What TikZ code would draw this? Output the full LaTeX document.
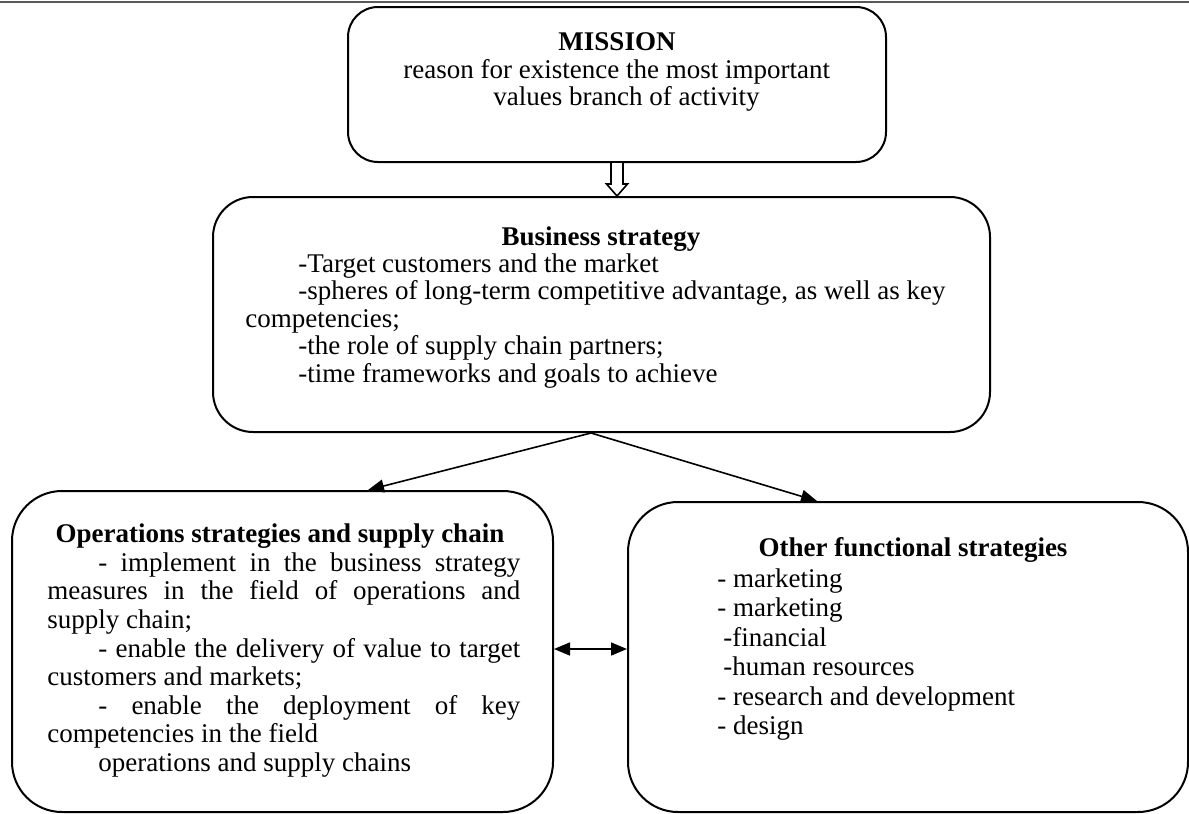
\documentclass[tikz,border=0pt]{standalone}
\usepackage{fontspec}
\setmainfont{Liberation Serif}
\usetikzlibrary{arrows.meta,fit,calc}
\begin{document}
\begin{tikzpicture}[x=0.5pt,y=-0.5pt,
  box/.style={draw, line width=1pt, rounded corners=#1, inner sep=0pt},
  box/.default=15pt,
  arr/.style={line width=0.8pt, -{Triangle[length=8pt,width=6.5pt]}},
  arrboth/.style={line width=0.8pt, {Triangle[length=8pt,width=6.5pt]}-{Triangle[length=8pt,width=6.5pt]}},
  txt/.style={anchor=base west, inner sep=0pt, font=\fontsize{13.5}{16}\selectfont},
  ttl/.style={anchor=base, inner sep=0pt, font=\fontsize{13.5}{16}\selectfont\bfseries},
  rule/.style={line width=1pt, black!65}]
\useasboundingbox (0,0) rectangle (1189,814);

% page rule along the top
\coordinate (ruleL) at (0,2);
\coordinate (ruleR) at (1189,2);
\draw[rule] (ruleL) -- (ruleR);

% the four boxes
\node[box=15pt, fit={(348,7) (886,162)}] (mission) {};
\node[box=20pt, fit={(213,197) (990,432)}] (business) {};
\node[box=25pt, fit={(12,491) (553,812)}] (ops) {};
\node[box=25pt, fit={(628,502) (1188,812)}] (other) {};

% hollow arrow from the mission to the business strategy
\coordinate (hx) at (617,0);
\coordinate (ms) at (mission.south -| hx);
\coordinate (bn) at (business.north -| hx);
\draw[line width=0.8pt, fill=white]
  ($(ms)+(-6,0)$) -- ($(bn)+(-6,-12)$) -- ($(bn)+(-10.5,-12)$) -- (bn)
  -- ($(bn)+(10.5,-12)$) -- ($(bn)+(6,-12)$) -- ($(ms)+(6,0)$);

% connectors
\coordinate (ax) at (591,0);
\coordinate (lx) at (368,0);
\coordinate (rx) at (817,0);
\coordinate (dy) at (0,649);
\draw[arr] (business.south -| ax) -- (ops.north -| lx);
\draw[arr] (business.south -| ax) -- (other.north -| rx);
\draw[arrboth] (ops.east |- dy) -- (other.west |- dy);

% mission text
\node[ttl] (missionT) at (617,50) {MISSION};
\node[txt] (missionA) at (403,78) {reason for existence the most important};
\node[txt] (missionB) at (493,105) {values branch of activity};

% business strategy text
\node[ttl] (busT) at (601,245) {Business strategy};
\node[txt] (bus1) at (298,272) {-Target customers and the market};
\node[txt] (bus2) at (298,299.5) {-spheres of long-term competitive advantage, as well as key};
\node[txt] (bus3) at (245,327) {competencies;};
\node[txt] (bus4) at (298,354.5) {-the role of supply chain partners;};
\node[txt] (bus5) at (298,382) {-time frameworks and goals to achieve};

% operations strategies text (justified lines)
\node[ttl] (opsT) at (280,542) {Operations strategies and supply chain};
\node[txt] (ops1) at (98,571) {\makebox[211pt][s]{- implement in the business strategy}};
\node[txt] (ops2) at (47,599.5) {\makebox[236.5pt][s]{measures in the field of operations and}};
\node[txt] (ops3) at (47,628) {supply chain;};
\node[txt] (ops4) at (98,657) {\makebox[211pt][s]{- enable the delivery of value to target}};
\node[txt] (ops5) at (47,685.5) {customers and markets;};
\node[txt] (ops6) at (98,714) {\makebox[211pt][s]{- enable the deployment of key}};
\node[txt] (ops7) at (47,742.5) {competencies in the field};
\node[txt] (ops8) at (98,771) {operations and supply chains};

% other functional strategies text
\node[ttl] (othT) at (913,556) {Other functional strategies};
\node[txt] (oth1) at (717,587) {- marketing};
\node[txt] (oth2) at (717,616.5) {- marketing};
\node[txt] (oth3) at (723,646) {-financial};
\node[txt] (oth4) at (723,675.5) {-human resources};
\node[txt] (oth5) at (717,705) {- research and development};
\node[txt] (oth6) at (717,734.5) {- design};
\end{tikzpicture}
\end{document}
